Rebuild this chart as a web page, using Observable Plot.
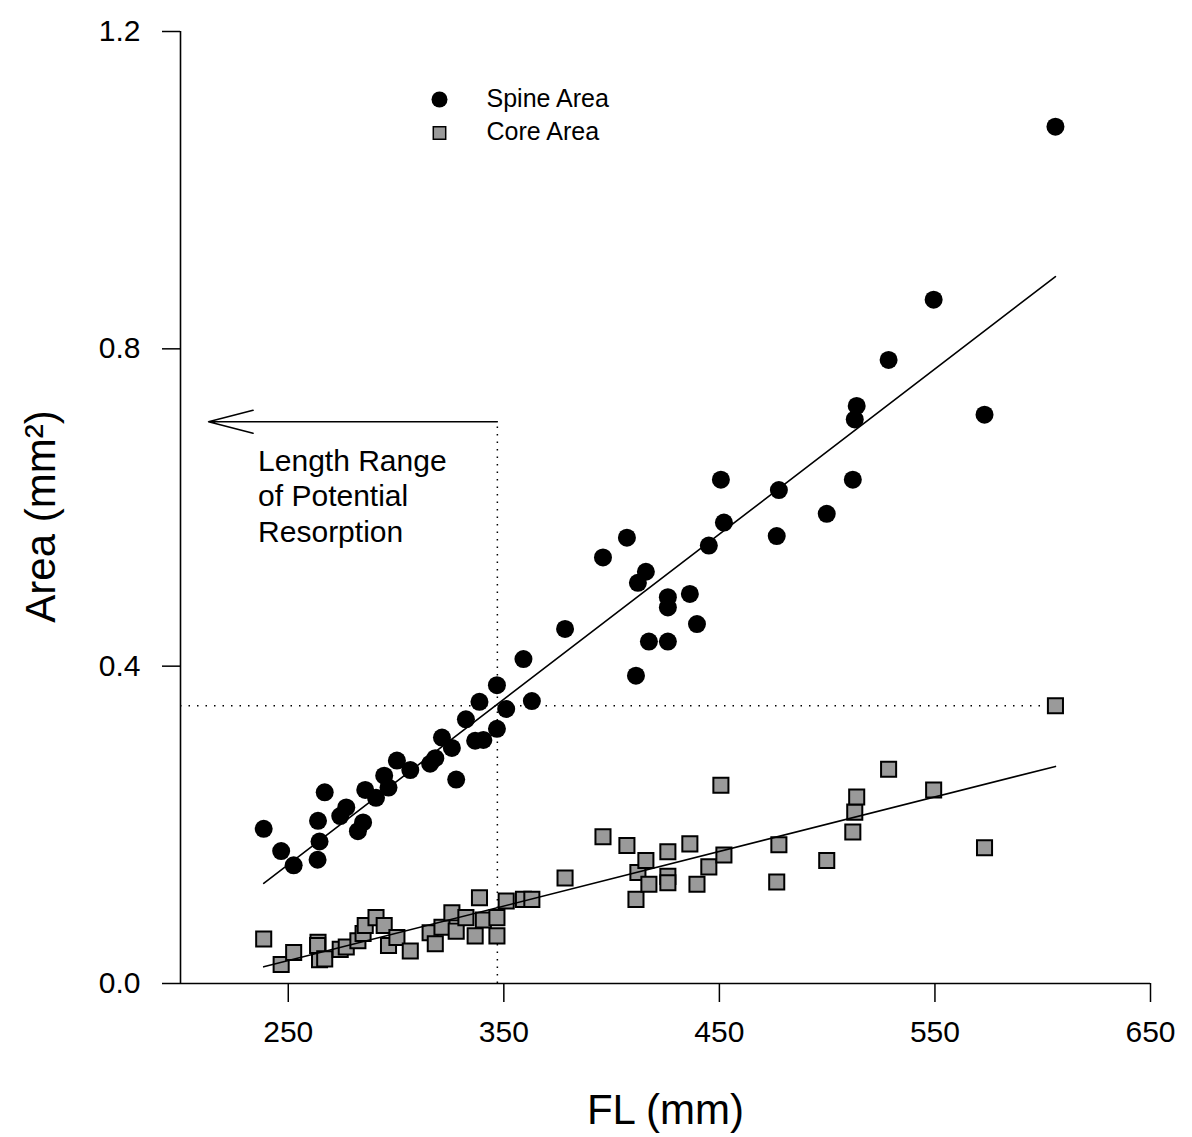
<!DOCTYPE html>
<html><head><meta charset="utf-8">
<script src="https://cdn.jsdelivr.net/npm/d3@7"></script>
<script src="https://cdn.jsdelivr.net/npm/@observablehq/plot@0.6"></script>
<style>
body{margin:0;background:#fff}
svg{font-family:"Liberation Sans",Arial,sans-serif}
</style>
</head><body><div id="chart"></div>
<script>
// Fork length (mm) of each fish
const fl = [238.6,246.7,252.5,263.8,264.5,263.6,266.9,274.1,276.9,282.3,
  284.7,285.7,290.7,294.5,296.5,300.4,306.6,315.8,318.2,321.3,
  325.9,327.9,332.4,336.7,340.5,338.7,346.8,346.8,351.1,359.1,
  363.0,378.4,396.0,407.1,411.3,412.2,415.9,417.3,426.1,426.1,
  426.1,436.3,439.6,445.1,450.7,452.1,476.6,477.6,499.8,511.9,
  512.8,513.7,528.5,549.4,573.0,605.9];
// Spine area (mm^2)
const spineArea = [0.195,0.167,0.149,0.205,0.179,0.156,0.241,0.211,0.222,0.192,
  0.203,0.244,0.234,0.262,0.247,0.281,0.269,0.277,0.284,0.310,
  0.297,0.257,0.333,0.306,0.307,0.355,0.321,0.376,0.346,0.409,
  0.356,0.447,0.537,0.562,0.388,0.505,0.519,0.431,0.487,0.474,
  0.431,0.491,0.453,0.552,0.635,0.581,0.564,0.622,0.592,0.635,
  0.711,0.728,0.786,0.862,0.717,1.080];
// Core area (mm^2)
const coreArea = [0.056,0.024,0.039,0.052,0.030,0.048,0.031,0.043,0.046,0.054,
  0.063,0.073,0.083,0.073,0.048,0.058,0.041,0.064,0.050,0.071,
  0.089,0.066,0.083,0.060,0.080,0.108,0.060,0.083,0.104,0.106,
  0.106,0.133,0.185,0.174,0.106,0.140,0.155,0.125,0.166,0.135,
  0.127,0.176,0.125,0.147,0.250,0.162,0.128,0.175,0.155,0.191,
  0.216,0.235,0.270,0.244,0.171,0.350];

const seriesNames = ["Spine Area", "Core Area"];
const xDomain = [200, 650];
const yDomain = [0, 1.2];
const xTicks = [250, 350, 450, 550, 650];
const yTicks = [0.0, 0.4, 0.8, 1.2];
const xLabel = "FL (mm)";
const yLabel = "Area (mm²)";
// annotation values
const resorptionFL = 347;     // FL where spine fit reaches max core area
const maxCoreArea = 0.35;
const arrowArea = 0.708;
const arrowTipFL = 213;
const annotationText = "Length Range\nof Potential\nResorption";
const annotationFL = 236;
const annotationArea = 0.678;

const spine = fl.map((x, i) => ({fl: x, area: spineArea[i]}));
const core = fl.map((x, i) => ({fl: x, area: coreArea[i]}));
const FONT = '"Liberation Sans", Arial, sans-serif';
const SQUARE_FILL = "#9a9a9a";

const chart = Plot.plot({
  width: 1192,
  height: 1137,
  marginLeft: 180,
  marginRight: 42,
  marginTop: 31,
  marginBottom: 154,
  style: {fontFamily: FONT, color: "#000", background: "#fff", overflow: "visible"},
  x: {domain: xDomain},
  y: {domain: yDomain},
  marks: [
    // dotted guide lines
    Plot.ruleX([resorptionFL], {y1: yDomain[0], y2: arrowArea, stroke: "#000", strokeWidth: 1.5, strokeDasharray: "1.5,6"}),
    Plot.ruleY([maxCoreArea], {x1: xDomain[0], x2: fl[fl.length - 1], stroke: "#000", strokeWidth: 1.5, strokeDasharray: "1.5,7"}),
    // arrow
    Plot.arrow([{x1: resorptionFL, x2: arrowTipFL, y: arrowArea}], {
      x1: "x1", x2: "x2", y1: "y", y2: "y", stroke: "#000", strokeWidth: 1.5,
      headLength: 46, headAngle: 29
    }),
    Plot.text([{fl: annotationFL, area: annotationArea, label: annotationText}], {
      x: "fl", y: "area", text: "label", textAnchor: "start", lineAnchor: "top",
      lineHeight: 1.18, fontSize: 30, fill: "#000"
    }),
    // data
    Plot.dot(core, {x: "fl", y: "area", symbol: "square", r: 8.5, fill: SQUARE_FILL, stroke: "#000", strokeWidth: 2}),
    Plot.dot(spine, {x: "fl", y: "area", symbol: "circle", r: 9, fill: "#000", stroke: "none"}),
    Plot.linearRegressionY(spine, {x: "fl", y: "area", ci: 0, stroke: "#000", strokeWidth: 1.6}),
    Plot.linearRegressionY(core, {x: "fl", y: "area", ci: 0, stroke: "#000", strokeWidth: 1.6}),
    // axes
    Plot.ruleY([yDomain[0]], {stroke: "#000", strokeWidth: 1.6}),
    Plot.ruleX([xDomain[0]], {stroke: "#000", strokeWidth: 1.6}),
    Plot.axisX(xTicks, {anchor: "bottom", tickSize: 19, tickPadding: 18, fontSize: 30, strokeWidth: 1.5, label: null}),
    Plot.axisY(yTicks, {anchor: "left", tickSize: 18, tickPadding: 22, fontSize: 30, strokeWidth: 1.5, tickFormat: d3.format(".1f"), label: null}),
    // axis titles
    Plot.text([xLabel], {frameAnchor: "bottom", dy: 140, textAnchor: "middle", lineAnchor: "bottom", fontSize: 42, fill: "#000"}),
    Plot.text([yLabel], {frameAnchor: "left", dx: -126, dy: 9, rotate: -90, textAnchor: "middle", lineAnchor: "bottom", fontSize: 42, fill: "#000"}),
    // legend
    Plot.dot([seriesNames[0]], {frameAnchor: "top-left", dx: 259, dy: 68, r: 8, fill: "#000", symbol: "circle"}),
    Plot.dot([seriesNames[1]], {frameAnchor: "top-left", dx: 259, dy: 101.5, r: 7, fill: SQUARE_FILL, stroke: "#000", strokeWidth: 1.5, symbol: "square"}),
    Plot.text([seriesNames[0]], {frameAnchor: "top-left", dx: 306, dy: 67, textAnchor: "start", lineAnchor: "middle", fontSize: 25, fill: "#000"}),
    Plot.text([seriesNames[1]], {frameAnchor: "top-left", dx: 306, dy: 100, textAnchor: "start", lineAnchor: "middle", fontSize: 25, fill: "#000"})
  ]
});
document.getElementById("chart").appendChild(chart);
</script>
</body></html>
